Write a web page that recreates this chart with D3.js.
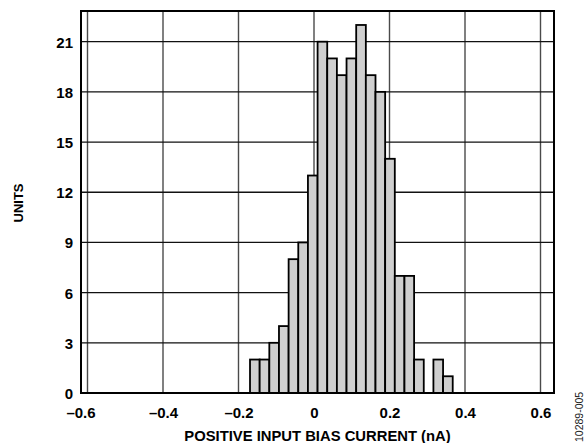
<!DOCTYPE html>
<html>
<head>
<meta charset="utf-8">
<script src="https://cdn.jsdelivr.net/npm/d3@7"></script>
<style>
  html, body { margin: 0; padding: 0; background: #fff; }
  svg { display: block; }
  text { font-family: Arial, "Liberation Sans", Helvetica, sans-serif; }
</style>
</head>
<body>
<svg id="chart" width="587" height="443"></svg>
<script>
// ---- data ----
const binStart = -0.1695;     // nA, left edge of first bin
const binWidth = 0.02557;     // nA
const counts = [2, 2, 3, 4, 8, 9, 13, 21, 20, 19, 20, 22, 19, 18, 14, 7, 7, 2, 0, 2, 1];
const xTicks = [-0.6, -0.4, -0.2, 0, 0.2, 0.4, 0.6];
const xTickLabels = ["\u20130.6", "\u20130.4", "\u20130.2", "0", "0.2", "0.4", "0.6"];
const yTicks = [0, 3, 6, 9, 12, 15, 18, 21];
const xTitle = "POSITIVE INPUT BIAS CURRENT (nA)";
const yTitle = "UNITS";
const figId = "10289-005";

// ---- layout ----
const frame = { left: 81, right: 554, top: 11, bottom: 393 };
const svg = d3.select("#chart");

const x = d3.scaleLinear().domain([-0.6, 0.6]).range([87.5, 540.5]);
const y = d3.scaleLinear().domain([0, 21]).range([frame.bottom, 41.7]);

const bins = counts.map((c, i) => ({ x0: binStart + i * binWidth, x1: binStart + (i + 1) * binWidth, n: c }));

// gridlines
const grid = svg.append("g");
grid.selectAll("line.v").data(xTicks).enter().append("line")
  .attr("x1", d => x(d)).attr("x2", d => x(d))
  .attr("y1", frame.top).attr("y2", frame.bottom)
  .attr("stroke", "#4a4a4a").attr("stroke-width", 1.4);
grid.selectAll("line.h").data(yTicks.filter(d => d > 0)).enter().append("line")
  .attr("x1", frame.left).attr("x2", frame.right)
  .attr("y1", d => y(d)).attr("y2", d => y(d))
  .attr("stroke", "#111").attr("stroke-width", 1.3);

// bars
svg.append("g").selectAll("rect").data(bins.filter(b => b.n > 0)).enter().append("rect")
  .attr("x", d => x(d.x0))
  .attr("width", d => x(d.x1) - x(d.x0))
  .attr("y", d => y(d.n))
  .attr("height", d => y(0) - y(d.n))
  .attr("fill", "#cfcfcf")
  .attr("stroke", "#000")
  .attr("stroke-width", 1.8);

// frame
svg.append("rect")
  .attr("x", frame.left).attr("y", frame.top)
  .attr("width", frame.right - frame.left).attr("height", frame.bottom - frame.top)
  .attr("fill", "none").attr("stroke", "#000").attr("stroke-width", 2);

// axes labels (ticks via d3 axes, tick lines hidden)
const xAxis = d3.axisBottom(x).tickValues(xTicks).tickSize(0).tickPadding(0)
  .tickFormat((d, i) => xTickLabels[i]);
const gx = svg.append("g").attr("transform", `translate(0,${frame.bottom})`).call(xAxis);
gx.select(".domain").remove();
gx.selectAll("text")
  .attr("dy", null).attr("y", 25)
  .attr("dx", (d, i) => i === 0 ? -7 : 0)
  .attr("fill", "#000")
  .style("font-size", "15px").style("font-weight", "bold");

const yAxis = d3.axisLeft(y).tickValues(yTicks).tickSize(0).tickPadding(0);
const gy = svg.append("g").attr("transform", `translate(73,0)`).call(yAxis);
gy.select(".domain").remove();
gy.selectAll("text")
  .attr("x", 0).attr("dy", "0.36em")
  .attr("fill", "#000")
  .style("font-size", "15px").style("font-weight", "bold");

// titles
svg.append("text")
  .attr("x", 317.5).attr("y", 441)
  .attr("text-anchor", "middle")
  .style("font-size", "14.8px").style("font-weight", "bold")
  .text(xTitle);

svg.append("text")
  .attr("transform", "translate(23,203) rotate(-90)")
  .attr("text-anchor", "middle")
  .style("font-size", "13px").style("font-weight", "bold")
  .text(yTitle);

svg.append("text")
  .attr("transform", "translate(583,442) rotate(-90)")
  .attr("text-anchor", "start")
  .style("font-size", "10.5px")
  .attr("fill", "#222")
  .text(figId);
</script>
</body>
</html>
